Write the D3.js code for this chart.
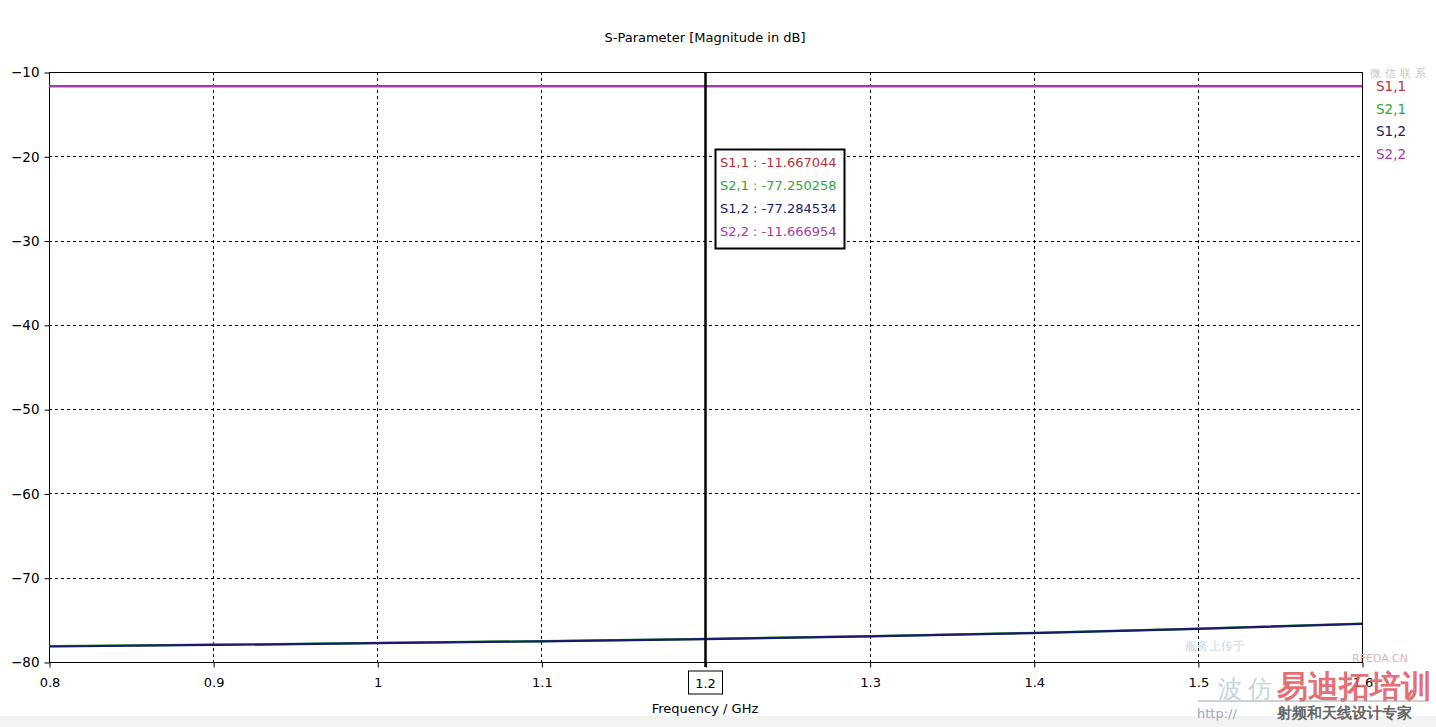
<!DOCTYPE html>
<html>
<head>
<meta charset="utf-8">
<script src="https://cdn.jsdelivr.net/npm/d3@7"></script>
<style>
  html, body { margin: 0; padding: 0; background: #fff; }
  svg { display: block; }
  text { font-family: "DejaVu Sans", Tahoma, sans-serif; }
</style>
</head>
<body>
<svg id="chart" width="1436" height="727"></svg>
<script>
// ---- data ----
const frequencies = [0.8, 0.9, 1.0, 1.1, 1.2, 1.3, 1.4, 1.5, 1.6];
const s11 = [-11.667, -11.667, -11.667, -11.667, -11.667044, -11.667, -11.667, -11.667, -11.667];
const s22 = [-11.667, -11.667, -11.667, -11.667, -11.666954, -11.667, -11.667, -11.667, -11.667];
const s21 = [-78.12, -77.95, -77.74, -77.52, -77.250258, -76.93, -76.53, -76.03, -75.43];
const s12 = [-78.16, -77.98, -77.77, -77.55, -77.284534, -76.97, -76.57, -76.07, -75.47];
const seriesNames = ["S1,1", "S2,1", "S1,2", "S2,2"];
const seriesColors = ["#b8303c", "#2fa83a", "#1a1a6a", "#a83aa8"];
const xTicks = [0.8, 0.9, 1.0, 1.1, 1.2, 1.3, 1.4, 1.5, 1.6];
const yTicks = [-10, -20, -30, -40, -50, -60, -70, -80];
const markerFreq = 1.2;
const markerValues = ["-11.667044", "-77.250258", "-77.284534", "-11.666954"];
const titleText = "S-Parameter [Magnitude in dB]";
const xLabel = "Frequency / GHz";

const svg = d3.select("#chart");
const pL = 49, pR = 1362, pT = 72, pB = 662;
const x = d3.scaleLinear().domain([0.8, 1.6]).range([pL, pR]);
const y = d3.scaleLinear().domain([-80, -10]).range([pB, pT]);

// bottom strip
svg.append("rect").attr("x", 0).attr("y", 716).attr("width", 1436).attr("height", 11).attr("fill", "#f3f3f1");

// grid
const grid = svg.append("g").attr("stroke", "#000").attr("stroke-width", 1).attr("stroke-dasharray", "3,3");
xTicks.slice(1, -1).forEach(t => {
  grid.append("line").attr("x1", Math.round(x(t)) + 0.5).attr("x2", Math.round(x(t)) + 0.5)
    .attr("y1", pT).attr("y2", pB);
});
yTicks.slice(1, -1).forEach(t => {
  grid.append("line").attr("y1", Math.round(y(t)) + 0.5).attr("y2", Math.round(y(t)) + 0.5)
    .attr("x1", pL).attr("x2", pR);
});

// frame
svg.append("rect").attr("x", pL + 0.5).attr("y", pT + 0.5)
  .attr("width", pR - pL).attr("height", pB - pT)
  .attr("fill", "none").attr("stroke", "#000").attr("stroke-width", 1);

// axes
const xAxis = d3.axisBottom(x).tickValues(xTicks).tickSize(5).tickPadding(10)
  .tickFormat(d => String(+d.toFixed(1)));
const gx = svg.append("g").attr("transform", `translate(0.5,${pB + 0.5})`).call(xAxis);
gx.select(".domain").remove();
gx.selectAll("text").attr("font-size", 13).attr("fill", "#000").attr("font-family", "DejaVu Sans");
gx.selectAll(".tick").filter(d => d === markerFreq).select("text").attr("opacity", 0);

const yAxis = d3.axisLeft(y).tickValues(yTicks).tickSize(5).tickPadding(5);
const gy = svg.append("g").attr("transform", `translate(${pL + 0.5},0.5)`).call(yAxis);
gy.select(".domain").remove();
gy.selectAll("text").attr("font-size", 13.5).attr("fill", "#000").attr("font-family", "DejaVu Sans");

// series lines
const line = d3.line().x((d, i) => x(frequencies[i])).y(d => y(d));
const dataSets = [s11, s21, s12, s22];
const drawOrder = [0, 1, 3, 2];
drawOrder.forEach(k => {
  svg.append("path").datum(dataSets[k]).attr("d", line)
    .attr("fill", "none").attr("stroke", seriesColors[k]).attr("stroke-width", 2.2);
});

// marker line
const mx = Math.round(x(markerFreq)) + 0.5;
svg.append("line").attr("x1", mx).attr("x2", mx).attr("y1", pT).attr("y2", pB + 5)
  .attr("stroke", "#000").attr("stroke-width", 2.5);

// marker x label box
svg.append("rect").attr("x", mx - 17).attr("y", 671).attr("width", 34).attr("height", 23)
  .attr("fill", "#fff").attr("stroke", "#000").attr("stroke-width", 1);
svg.append("text").attr("x", mx).attr("y", 688).attr("text-anchor", "middle")
  .attr("font-size", 13).text(String(markerFreq));

// marker value box
const box = svg.append("g");
box.append("rect").attr("x", 715.5).attr("y", 149.5).attr("width", 129).attr("height", 99)
  .attr("fill", "#fff").attr("stroke", "#000").attr("stroke-width", 2);
seriesNames.forEach((n, i) => {
  box.append("text").attr("x", 720).attr("y", 167 + i * 23).attr("font-size", 13)
    .attr("fill", seriesColors[i]).text(`${n} : ${markerValues[i]}`);
});

// legend
seriesNames.forEach((n, i) => {
  svg.append("text").attr("x", 1376).attr("y", 91 + i * 22.7).attr("font-size", 13.5)
    .attr("fill", seriesColors[i]).text(n);
});

// title & axis label
svg.append("text").attr("x", 705).attr("y", 42).attr("text-anchor", "middle")
  .attr("font-size", 13).text(titleText);
svg.append("text").attr("x", 705).attr("y", 713).attr("text-anchor", "middle")
  .attr("font-size", 13).text(xLabel);

// watermark (faint)
const wm = svg.append("g");
wm.append("text").attr("x", 1370).attr("y", 77).attr("font-size", 11).attr("fill", "#c8c8c8")
  .attr("font-family", "Noto Sans CJK SC").attr("letter-spacing", 4).text("微信联系");
wm.append("text").attr("x", 1185).attr("y", 650).attr("font-size", 12).attr("fill", "#c9d8e8")
  .attr("font-family", "Noto Sans CJK SC").text("服务上传于");
wm.append("text").attr("x", 1352).attr("y", 662).attr("font-size", 11).attr("fill", "#d6b8bc")
  .attr("font-family", "Liberation Sans").text("RFEDA.CN");
wm.append("text").attr("x", 1218).attr("y", 697).attr("font-size", 24).attr("fill", "#a8c4d4")
  .attr("font-family", "Noto Sans CJK SC").attr("letter-spacing", 6).attr("opacity", 0.7).text("波仿");
wm.append("text").attr("x", 1277).attr("y", 697).attr("font-size", 31).attr("font-weight", "bold")
  .attr("fill", "#e0585f").attr("opacity", 0.85)
  .attr("font-family", "Noto Sans CJK SC").text("易迪拓培训");
wm.append("line").attr("x1", 1198).attr("x2", 1426).attr("y1", 701).attr("y2", 701)
  .attr("stroke", "#999").attr("stroke-width", 1.5).attr("opacity", 0.6);
wm.append("text").attr("x", 1197).attr("y", 718).attr("font-size", 13).attr("fill", "#9ab")
  .attr("font-family", "DejaVu Sans Mono").text("http://");
wm.append("text").attr("x", 1277).attr("y", 718).attr("font-size", 15).attr("font-weight", "bold")
  .attr("fill", "#666").attr("font-family", "Noto Sans CJK SC").text("射频和天线设计专家");
</script>
</body>
</html>
